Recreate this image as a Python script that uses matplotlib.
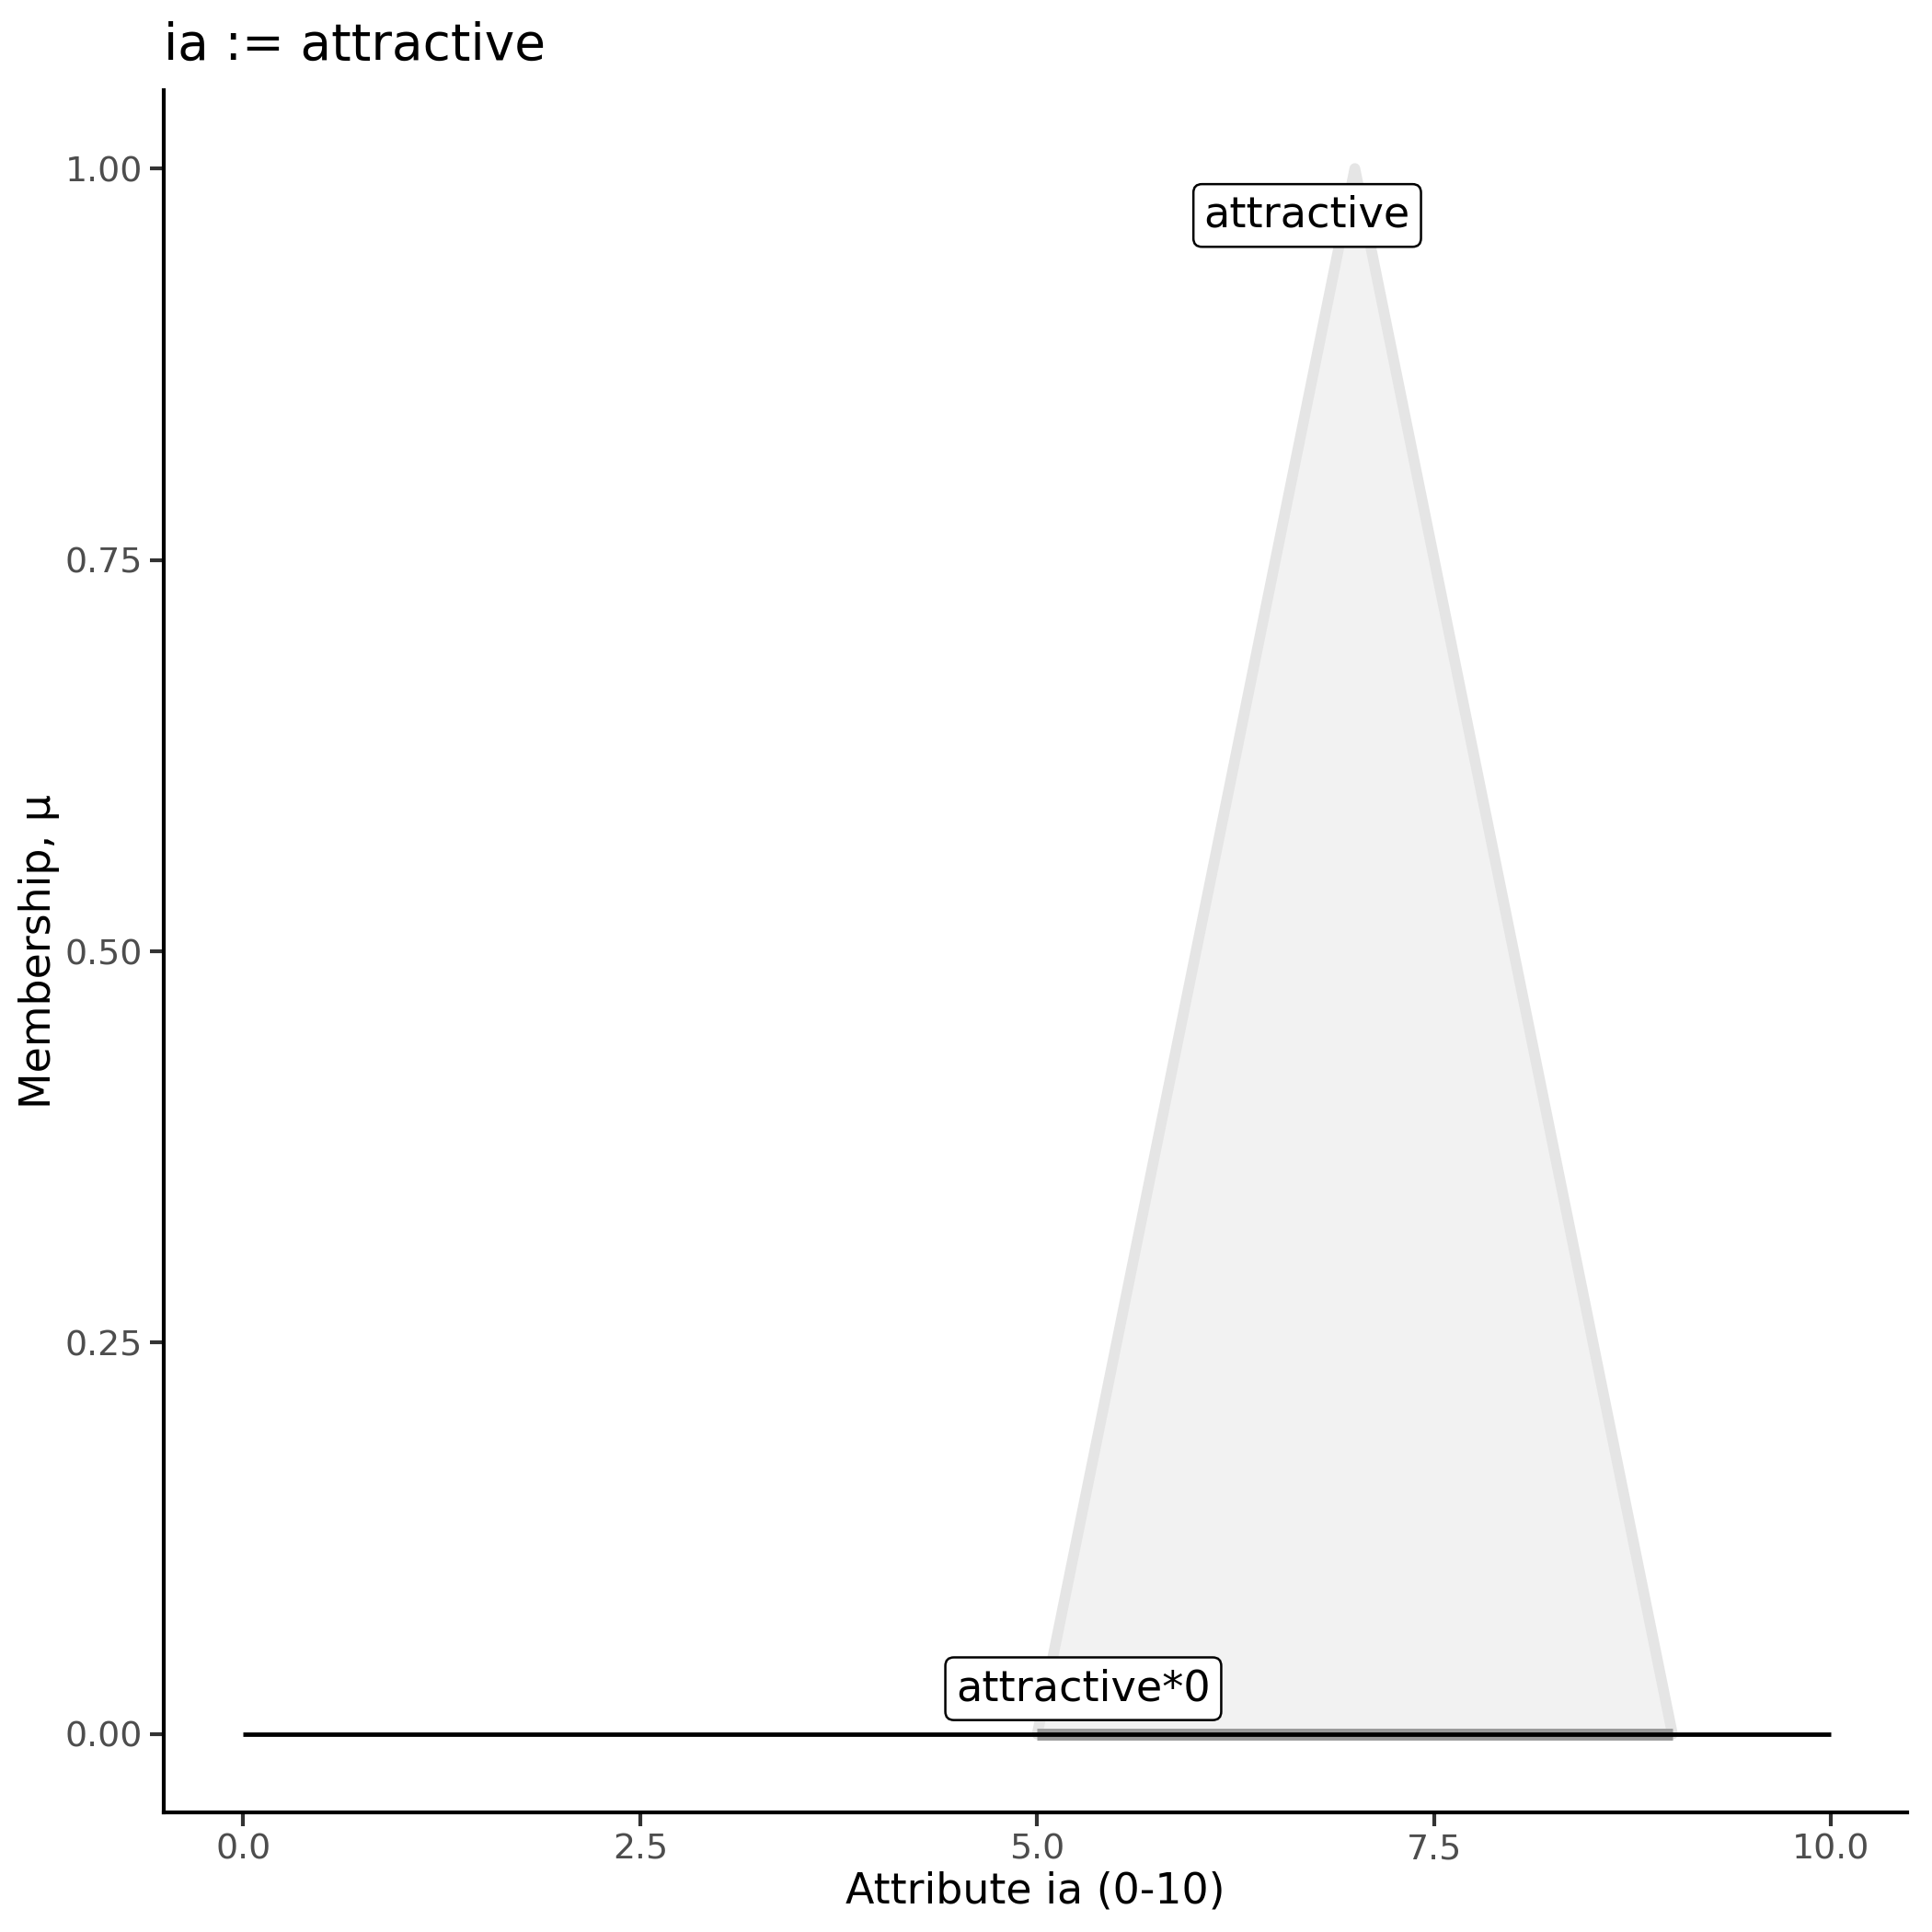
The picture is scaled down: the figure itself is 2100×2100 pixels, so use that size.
import matplotlib
matplotlib.use("Agg")
import matplotlib.pyplot as plt

# membership function: triangle for "attractive"
set_x = [5.0, 7.0, 9.0]
set_mu = [0.0, 1.0, 0.0]

# universe of discourse and the scaled set (attractive*0)
universe_x = [0.0, 10.0]
universe_mu = [0.0, 0.0]
scaled_x = [5.0, 9.0]
scaled_mu = [0.0, 0.0]

label_names = ["attractive", "attractive*0"]
label_x = [6.70, 5.29]
label_y = [0.970, 0.029]

x_ticks = [0.0, 2.5, 5.0, 7.5, 10.0]
y_ticks = [0.00, 0.25, 0.50, 0.75, 1.00]

fig = plt.figure(figsize=(7, 7), dpi=300)
ax = fig.add_axes([0.0848, 0.0619, 0.9025, 0.8914])

ax.fill(set_x, set_mu, facecolor="#F2F2F2", edgecolor="none", zorder=1)
ax.plot(set_x, set_mu, color="#E5E5E5", linewidth=2.8,
        solid_capstyle="round", solid_joinstyle="round", zorder=2)
ax.plot(scaled_x, scaled_mu, color="#999999", linewidth=3.1,
        solid_capstyle="butt", zorder=3)
ax.plot(universe_x, universe_mu, color="black", linewidth=1.15,
        solid_capstyle="butt", zorder=4)

for name, lx, ly in zip(label_names, label_x, label_y):
    ax.text(lx, ly, name, ha="center", va="center", fontsize=11.1, color="black",
            zorder=5,
            bbox=dict(boxstyle="round,pad=0.25,rounding_size=0.2",
                      facecolor="white", edgecolor="black", linewidth=0.6))

ax.set_xlim(-0.5, 10.48)
ax.set_ylim(-0.05, 1.05)
ax.set_xticks(x_ticks)
ax.set_xticklabels([f"{v:.1f}" for v in x_ticks])
ax.set_yticks(y_ticks)
ax.set_yticklabels([f"{v:.2f}" for v in y_ticks])

for side in ["top", "right"]:
    ax.spines[side].set_visible(False)
for side in ["left", "bottom"]:
    ax.spines[side].set_linewidth(1.0)
    ax.spines[side].set_color("black")

ax.tick_params(axis="both", length=3.5, width=1.0, color="#333333",
               labelcolor="#4D4D4D", labelsize=9.1, pad=2)

ax.set_xlabel("Attribute ia (0-10)", fontsize=11, labelpad=1.0)
ax.set_ylabel("Membership, μ", fontsize=11, labelpad=1.5)
ax.set_title("ia := attractive", fontsize=13.2, loc="left", pad=8)

fig.savefig("out.png", dpi=300)
